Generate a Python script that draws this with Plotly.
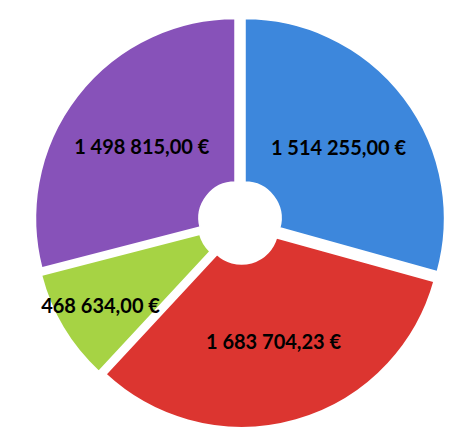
import plotly.graph_objects as go

labels = ["Bleu", "Rouge", "Vert", "Violet"]
values = [1514255.00, 1683704.23, 468634.00, 1498815.00]
texts = ["1 514 255,00 €", "1 683 704,23 €", "468 634,00 €", "1 498 815,00 €"]
colors = ["#3d87dc", "#dc3530", "#a6d344", "#8752b9"]

fig = go.Figure(go.Pie(
    labels=labels,
    values=values,
    text=texts,
    textinfo="text",
    sort=False,
    direction="clockwise",
    rotation=0,
    hole=0.18,
    pull=[0.03, 0.03, 0.03, 0.03],
    marker=dict(colors=colors, line=dict(color="white", width=2)),
    textposition="inside",
    insidetextorientation="horizontal",
    textfont=dict(family="Lato", size=20, color="#000000", weight="bold"),
    showlegend=False,
    hoverinfo="label+value",
))

fig.update_layout(
    width=464, height=430,
    margin=dict(l=4, r=4, t=8, b=10),
    paper_bgcolor="white",
    plot_bgcolor="white",
    uniformtext=dict(minsize=20, mode="show"),
)

fig.write_html("out.html")
